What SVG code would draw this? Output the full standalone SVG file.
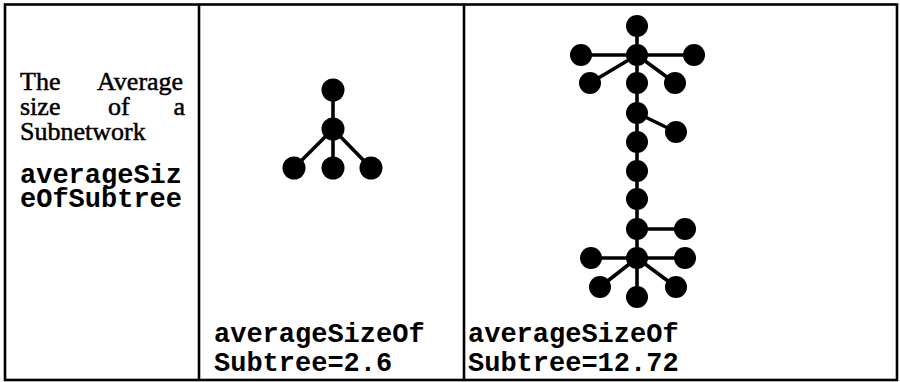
<svg xmlns="http://www.w3.org/2000/svg" width="900" height="382" viewBox="0 0 900 382">
  <style>
    .frame { fill: none; stroke: #000; stroke-width: 2.6; }
    .rule { stroke: #000; stroke-width: 2.6; }
    .edge { stroke: #000; stroke-width: 3.6; stroke-linecap: round; }
    .node { fill: #000; }
    .serif { font-family: "Liberation Serif", "Times New Roman", serif; font-size: 26px; fill: #000; stroke: #000; stroke-width: 0.5; }
    .mono { font-family: "Liberation Mono", "Courier New", monospace; font-size: 27px; font-weight: bold; fill: #000; }
  </style>
  <rect width="900" height="382" fill="#fff"/>

  <!-- table frame -->
  <g id="table">
    <rect class="frame" x="5" y="4.5" width="892" height="375.5"/>
    <line class="rule" x1="199" y1="4.5" x2="199" y2="380"/>
    <line class="rule" x1="464" y1="4.5" x2="464" y2="380"/>
  </g>

  <!-- first column: metric description (justified lines) -->
  <g id="label">
    <text class="serif">
      <tspan x="20" y="90">The</tspan><tspan x="97" y="90">Average</tspan>
      <tspan x="20" y="115">size</tspan><tspan x="108" y="115">of</tspan><tspan x="173.5" y="115">a</tspan>
      <tspan x="20" y="140">Subnetwork</tspan>
    </text>
    <text class="mono">
      <tspan x="20" y="183">averageSiz</tspan>
      <tspan x="20" y="207">eOfSubtree</tspan>
    </text>
  </g>

  <!-- connectors of both trees -->
  <g id="connectors">
    <!-- small tree -->
    <line class="edge" x1="333" y1="90" x2="333" y2="129"/>
    <line class="edge" x1="333" y1="129" x2="294" y2="168"/>
    <line class="edge" x1="333" y1="129" x2="333" y2="168"/>
    <line class="edge" x1="333" y1="129" x2="371" y2="168"/>
    <!-- large tree: upper star -->
    <line class="edge" x1="637" y1="26" x2="637" y2="55"/>
    <line class="edge" x1="637" y1="55" x2="581" y2="55"/>
    <line class="edge" x1="637" y1="55" x2="694" y2="55"/>
    <line class="edge" x1="637" y1="55" x2="590" y2="83"/>
    <line class="edge" x1="637" y1="55" x2="675" y2="83"/>
    <!-- large tree: spine -->
    <line class="edge" x1="637" y1="55" x2="637" y2="297"/>
    <line class="edge" x1="637" y1="113" x2="676" y2="132"/>
    <line class="edge" x1="637" y1="229" x2="685" y2="229"/>
    <!-- large tree: lower star -->
    <line class="edge" x1="637" y1="258" x2="591" y2="258"/>
    <line class="edge" x1="637" y1="258" x2="685" y2="258"/>
    <line class="edge" x1="637" y1="258" x2="600" y2="287"/>
    <line class="edge" x1="637" y1="258" x2="676" y2="287"/>
  </g>

  <!-- small tree nodes -->
  <g id="s-root"><circle class="node" cx="333" cy="90" r="11.5"/></g>
  <g id="s-hub"><circle class="node" cx="333" cy="129" r="11.5"/></g>
  <g id="s-left"><circle class="node" cx="294" cy="168" r="11.5"/></g>
  <g id="s-mid"><circle class="node" cx="333" cy="168" r="11.5"/></g>
  <g id="s-right"><circle class="node" cx="371" cy="168" r="11.5"/></g>

  <!-- large tree nodes -->
  <g id="l-top"><circle class="node" cx="637" cy="26" r="11"/></g>
  <g id="l-hub1"><circle class="node" cx="637" cy="55" r="11"/></g>
  <g id="l-hub1-left"><circle class="node" cx="581" cy="55" r="11"/></g>
  <g id="l-hub1-right"><circle class="node" cx="694" cy="55" r="11"/></g>
  <g id="l-hub1-lowleft"><circle class="node" cx="590" cy="83" r="11"/></g>
  <g id="l-hub1-lowright"><circle class="node" cx="675" cy="83" r="11"/></g>
  <g id="l-spine1"><circle class="node" cx="637" cy="83" r="11"/></g>
  <g id="l-spine2"><circle class="node" cx="637" cy="113" r="11"/></g>
  <g id="l-spine2-branch"><circle class="node" cx="676" cy="132" r="11"/></g>
  <g id="l-spine3"><circle class="node" cx="637" cy="142" r="11"/></g>
  <g id="l-spine4"><circle class="node" cx="637" cy="171" r="11"/></g>
  <g id="l-spine5"><circle class="node" cx="637" cy="199" r="11"/></g>
  <g id="l-spine6"><circle class="node" cx="637" cy="229" r="11"/></g>
  <g id="l-spine6-branch"><circle class="node" cx="685" cy="229" r="11"/></g>
  <g id="l-hub2"><circle class="node" cx="637" cy="258" r="11"/></g>
  <g id="l-hub2-left"><circle class="node" cx="591" cy="258" r="11"/></g>
  <g id="l-hub2-right"><circle class="node" cx="685" cy="258" r="11"/></g>
  <g id="l-hub2-lowleft"><circle class="node" cx="600" cy="287" r="11"/></g>
  <g id="l-hub2-lowright"><circle class="node" cx="676" cy="287" r="11"/></g>
  <g id="l-hub2-bottom"><circle class="node" cx="637" cy="297" r="11"/></g>

  <!-- captions -->
  <g id="caption-small">
    <text class="mono"><tspan x="214" y="342">averageSizeOf</tspan><tspan x="214" y="371">Subtree=2.6</tspan></text>
  </g>
  <g id="caption-large">
    <text class="mono"><tspan x="468" y="342">averageSizeOf</tspan><tspan x="468" y="371">Subtree=12.72</tspan></text>
  </g>
</svg>
